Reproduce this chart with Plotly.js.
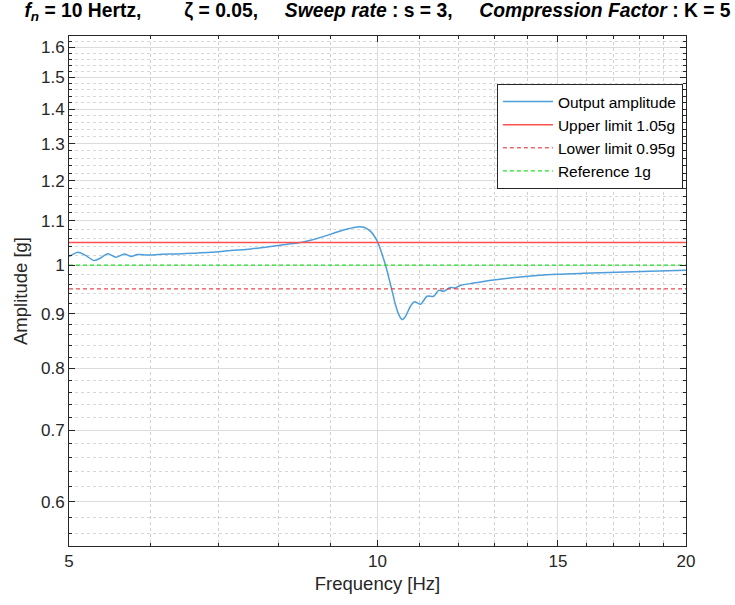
<!DOCTYPE html>
<html>
<head>
<meta charset="utf-8">
<script src="https://cdn.plot.ly/plotly-3.0.1.min.js"></script>
<style>html,body{margin:0;padding:0;background:#fff;}#chart{width:735px;height:605px;}</style>
</head>
<body>
<div id="chart"></div>
<script>
// Frequency [Hz] and measured output amplitude [g]
const freq = [5.00, 5.022, 5.099, 5.175, 5.292, 5.372, 5.454, 5.556, 5.661, 5.746, 5.833, 5.965,
  6.146, 6.381, 6.618, 6.875, 7.191, 7.521, 7.866, 8.227, 8.414, 8.605, 8.866, 9.136, 9.344,
  9.555, 9.698, 9.845, 9.994, 10.106, 10.220, 10.335, 10.412, 10.489, 10.570, 10.648, 10.768,
  10.865, 11.012, 11.179, 11.345, 11.474, 11.603, 11.778, 11.911, 12.046, 12.41, 12.98, 13.78,
  14.97, 15.89, 17.12, 18.45, 20.0];
const amplitude = [1.019, 1.021, 1.028, 1.023, 1.010, 1.016, 1.025, 1.017, 1.0245, 1.019, 1.023, 1.022,
  1.0236, 1.0245, 1.026, 1.028, 1.032, 1.0356, 1.041, 1.047, 1.050, 1.055, 1.064, 1.0743, 1.081,
  1.086, 1.085, 1.0757, 1.053, 1.023, 0.987, 0.945, 0.918, 0.899, 0.889, 0.895, 0.915,
  0.924, 0.919, 0.935, 0.935, 0.947, 0.945, 0.953, 0.952, 0.957, 0.962, 0.9685, 0.9748,
  0.9803, 0.9825, 0.9846, 0.9867, 0.9888];

const limitX = [5, 20];
const upperLimit = 1.05;
const lowerLimit = 0.95;
const referenceLevel = 1.0;

const seriesNames = ["Output amplitude", "Upper limit 1.05g", "Lower limit 0.95g", "Reference 1g"];

const xTickVals = [5, 10, 15, 20];
const xTickText = ["5", "10", "15", "20"];
const xMinorVals = [6, 7, 8, 9, 11, 12, 13, 14, 16, 17, 18, 19];
const yTickVals = [0.6, 0.7, 0.8, 0.9, 1, 1.1, 1.2, 1.3, 1.4, 1.5, 1.6];
const yTickText = ["0.6", "0.7", "0.8", "0.9", "1", "1.1", "1.2", "1.3", "1.4", "1.5", "1.6"];

// minor y ticks every 0.02 (layout only)
const yMinorVals = [];
for (let i = 28; i <= 82; i++) {
  const v = Math.round(i * 2) / 100;
  if (Math.round(v * 100) % 10 !== 0) yMinorVals.push(v);
}

const axisColor = "#262626";
const font = "Liberation Sans, Arial, Helvetica, sans-serif";
const sp = n => "\u00A0".repeat(n);

const traces = [
  {x: freq, y: amplitude, name: seriesNames[0], type: "scatter", mode: "lines",
   line: {color: "#4d9edb", width: 1.5, shape: "spline", smoothing: 0.8}},
  {x: limitX, y: [upperLimit, upperLimit], name: seriesNames[1], type: "scatter", mode: "lines",
   line: {color: "#ff5050", width: 1.5}},
  {x: limitX, y: [lowerLimit, lowerLimit], name: seriesNames[2], type: "scatter", mode: "lines",
   line: {color: "#e0202a", width: 1, dash: "4px,3px"}},
  {x: limitX, y: [referenceLevel, referenceLevel], name: seriesNames[3], type: "scatter", mode: "lines",
   line: {color: "#22e022", width: 1.3, dash: "4px,3px"}}
];

const layout = {
  width: 735, height: 605,
  margin: {l: 69, r: 49, t: 36, b: 59},
  paper_bgcolor: "#ffffff", plot_bgcolor: "#ffffff",
  font: {family: font, color: axisColor},
  title: {
    text: "<b><i>f</i></b><sub><b><i>n</i></b></sub><b> = 10 Hertz," + sp(7) + " ζ = 0.05," + sp(4) + " <i>Sweep rate</i> : s = 3," + sp(4) + " <i>Compression Factor</i> : K = 5</b>",
    font: {family: font, size: 19.3, color: "#000000"},
    x: 0.5, xref: "paper", xanchor: "center",
    y: 1, yref: "container", yanchor: "top", pad: {t: 3}
  },
  showlegend: true,
  legend: {
    x: 0.995, y: 0.906, xanchor: "right", yanchor: "top",
    bgcolor: "#ffffff", bordercolor: axisColor, borderwidth: 1,
    font: {family: font, size: 15.5, color: "#000000"},
    tracegroupgap: 0, itemwidth: 50
  },
  xaxis: {
    type: "log",
    range: [Math.log10(5), Math.log10(20)],
    tickmode: "array", tickvals: xTickVals, ticktext: xTickText,
    ticks: "inside", ticklen: 6, tickcolor: axisColor, tickwidth: 1,
    showline: true, linecolor: axisColor, linewidth: 1, mirror: "ticks",
    showgrid: true, gridcolor: "#dcdcdc", gridwidth: 1,
    zeroline: false,
    tickfont: {family: font, size: 17, color: axisColor},
    title: {text: "Frequency [Hz]", font: {family: font, size: 18.5, color: axisColor}, standoff: 6},
    minor: {tickmode: "array", tickvals: xMinorVals, ticks: "inside", ticklen: 3, tickcolor: axisColor,
            showgrid: true, gridcolor: "#d0d0d0", gridwidth: 1, griddash: "dot"}
  },
  yaxis: {
    type: "log",
    range: [Math.log10(0.5453), Math.log10(1.64)],
    tickmode: "array", tickvals: yTickVals, ticktext: yTickText,
    ticks: "inside", ticklen: 6, tickcolor: axisColor, tickwidth: 1,
    showline: true, linecolor: axisColor, linewidth: 1, mirror: "ticks",
    showgrid: true, gridcolor: "#dcdcdc", gridwidth: 1,
    zeroline: false,
    tickfont: {family: font, size: 17, color: axisColor},
    title: {text: "Amplitude [g]", font: {family: font, size: 18.5, color: axisColor}, standoff: 8},
    minor: {tickmode: "array", tickvals: yMinorVals, ticks: "inside", ticklen: 3, tickcolor: axisColor,
            showgrid: true, gridcolor: "#d8d8d8", gridwidth: 1, griddash: "dot"}
  }
};

Plotly.newPlot("chart", traces, layout, {displayModeBar: false, staticPlot: true});
</script>
</body>
</html>
